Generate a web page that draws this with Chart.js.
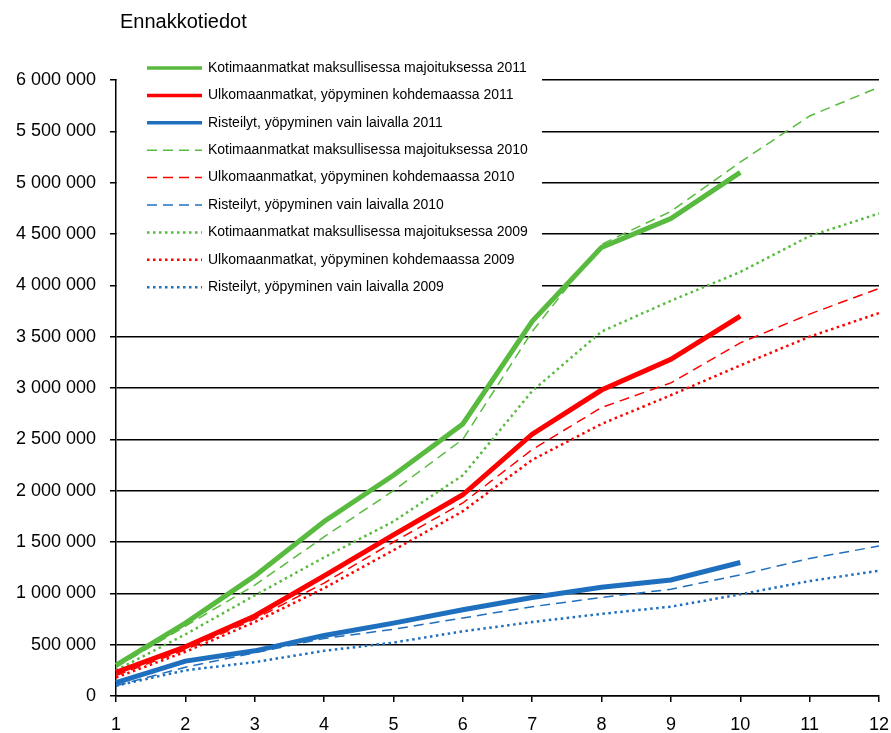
<!DOCTYPE html>
<html>
<head>
<meta charset="utf-8">
<script src="https://cdn.jsdelivr.net/npm/chart.js@4.4.0/dist/chart.umd.min.js"></script>
<style>
  body { margin: 0; background: #fff; }
  #wrap { width: 891px; height: 733px; position: relative; }
</style>
</head>
<body>
<div id="wrap"><canvas id="kuva"></canvas></div>
<script>
// Kuukaudet 1..12
const kuukaudet = ['1', '2', '3', '4', '5', '6', '7', '8', '9', '10', '11', '12'];

// 2011 (ennakkotiedot, vain 10 kk)
const koti2011 = [300000, 710000, 1170000, 1700000, 2150000, 2650000, 3650000, 4370000, 4650000, 5100000];
const ulko2011 = [230000, 480000, 780000, 1170000, 1570000, 1960000, 2550000, 2980000, 3280000, 3700000];
const rist2011 = [130000, 340000, 440000, 590000, 710000, 840000, 960000, 1060000, 1130000, 1300000];

// 2010
const koti2010 = [280000, 680000, 1080000, 1550000, 2000000, 2500000, 3550000, 4400000, 4720000, 5200000, 5650000, 5930000];
const ulko2010 = [200000, 450000, 750000, 1100000, 1500000, 1880000, 2400000, 2810000, 3050000, 3440000, 3720000, 3970000];
const rist2010 = [100000, 280000, 420000, 560000, 650000, 760000, 870000, 960000, 1040000, 1180000, 1340000, 1460000];

// 2009
const koti2009 = [250000, 600000, 980000, 1350000, 1700000, 2150000, 2970000, 3550000, 3850000, 4130000, 4480000, 4700000];
const ulko2009 = [180000, 430000, 720000, 1050000, 1420000, 1800000, 2300000, 2650000, 2930000, 3220000, 3500000, 3730000];
const rist2009 = [100000, 250000, 330000, 440000, 520000, 630000, 720000, 800000, 870000, 990000, 1120000, 1220000];

const vihrea = '#58bb3f', punainen = '#ff0000', sininen = '#1f6fbf';

const sarjat = [
  { label: 'Kotimaanmatkat maksullisessa majoituksessa 2011', data: koti2011, borderColor: vihrea, borderWidth: 5, borderDash: [] },
  { label: 'Ulkomaanmatkat, yöpyminen kohdemaassa 2011', data: ulko2011, borderColor: punainen, borderWidth: 5, borderDash: [] },
  { label: 'Risteilyt, yöpyminen vain laivalla 2011', data: rist2011, borderColor: sininen, borderWidth: 5, borderDash: [] },
  { label: 'Kotimaanmatkat maksullisessa majoituksessa 2010', data: koti2010, borderColor: vihrea, borderWidth: 1.5, borderDash: [10, 6] },
  { label: 'Ulkomaanmatkat, yöpyminen kohdemaassa 2010', data: ulko2010, borderColor: punainen, borderWidth: 1.5, borderDash: [10, 6] },
  { label: 'Risteilyt, yöpyminen vain laivalla 2010', data: rist2010, borderColor: sininen, borderWidth: 1.5, borderDash: [10, 6] },
  { label: 'Kotimaanmatkat maksullisessa majoituksessa 2009', data: koti2009, borderColor: vihrea, borderWidth: 2.5, borderDash: [2.5, 3.5] },
  { label: 'Ulkomaanmatkat, yöpyminen kohdemaassa 2009', data: ulko2009, borderColor: punainen, borderWidth: 2.5, borderDash: [2.5, 3.5] },
  { label: 'Risteilyt, yöpyminen vain laivalla 2009', data: rist2009, borderColor: sininen, borderWidth: 2.5, borderDash: [2.5, 3.5] }
];

const fontti = '"Liberation Sans", Arial, sans-serif';

// Selite piirretään kuva-alueen sisään valkoiselle pohjalle
const seliteLaatikko = {
  id: 'seliteLaatikko',
  beforeDatasetsDraw(chart) {
    const ctx = chart.ctx, ala = chart.chartArea;
    ctx.save();
    ctx.fillStyle = '#fff';
    ctx.fillRect(ala.left + 1, 55, 541 - ala.left, 245);
    ctx.font = '14px ' + fontti;
    ctx.textBaseline = 'middle';
    chart.data.datasets.forEach((ds, i) => {
      const y = 68 + i * 27.4;
      ctx.strokeStyle = ds.borderColor;
      ctx.lineWidth = ds.borderWidth > 4 ? 3.5 : ds.borderWidth;
      ctx.setLineDash(ds.borderDash);
      ctx.beginPath(); ctx.moveTo(147, y); ctx.lineTo(202, y); ctx.stroke();
      ctx.setLineDash([]);
      ctx.fillStyle = '#000';
      ctx.fillText(ds.label, 208, y);
    });
    ctx.restore();
  },
  afterDraw(chart) {
    const ctx = chart.ctx;
    ctx.save();
    ctx.font = '20px ' + fontti;
    ctx.fillStyle = '#000';
    ctx.textBaseline = 'middle';
    ctx.fillText('Ennakkotiedot', 120, 22);
    ctx.restore();
  }
};

new Chart(document.getElementById('kuva'), {
  type: 'line',
  data: {
    labels: kuukaudet,
    datasets: sarjat.map(s => ({ ...s, fill: false, pointRadius: 0, tension: 0, borderCapStyle: 'butt' }))
  },
  options: {
    responsive: true, maintainAspectRatio: false, animation: false,
    layout: { padding: { top: 80, right: 0, left: 0, bottom: 0 } },
    plugins: { legend: { display: false }, tooltip: { enabled: false } },
    scales: {
      x: {
        offset: false,
        grid: { drawOnChartArea: false, drawTicks: true, tickLength: 6, color: '#000', lineWidth: 1.5 },
        border: { color: '#000', width: 1.5 },
        ticks: { color: '#000', font: { family: fontti, size: 18 }, padding: 12, maxRotation: 0, autoSkip: false },
        afterFit: s => { s.height = 37; s.paddingLeft = 0; s.paddingRight = 12; }
      },
      y: {
        min: 0, max: 6000000,
        grid: { color: '#000', lineWidth: 1.5, tickLength: 6 },
        border: { color: '#000', width: 1.5 },
        ticks: {
          stepSize: 500000, color: '#000', font: { family: fontti, size: 18 }, padding: 14,
          callback: v => String(v).replace(/\B(?=(\d{3})+(?!\d))/g, ' ')
        },
        afterFit: s => { s.width = 116; }
      }
    }
  },
  plugins: [seliteLaatikko]
});
</script>
</body>
</html>
